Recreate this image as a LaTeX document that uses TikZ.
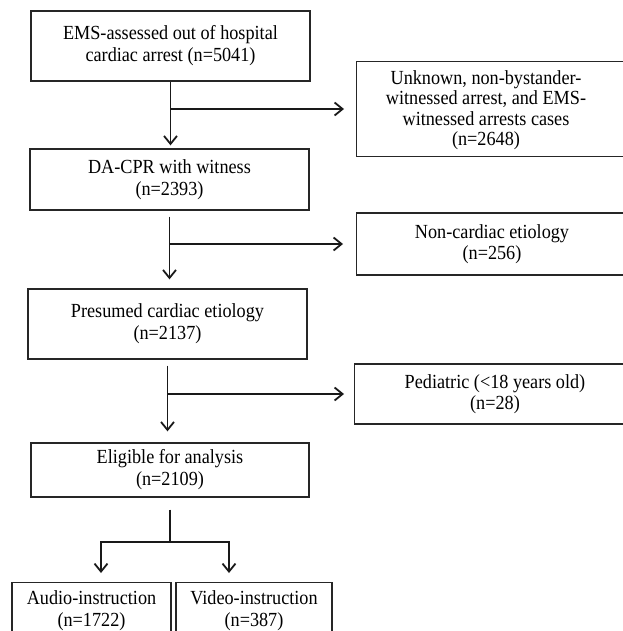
\documentclass[tikz,border=0pt]{standalone}
\usepackage{fontspec}
\setmainfont{Liberation Serif}[FakeStretch=0.91]
\usetikzlibrary{arrows.meta}
\begin{document}
\begin{tikzpicture}[x=1pt,y=-1pt,
  box/.style={draw=black!85, line width=1.3pt, align=center, inner sep=0pt, font=\fontsize{20}{22}\selectfont},
  txt/.style={align=center, inner sep=0pt, font=\fontsize{20}{21}\selectfont},
  ln/.style={draw=black!90, line width=1.8pt},
  arr/.style={ln, -{Straight Barb[length=8pt,width=13pt]}}]
\useasboundingbox (0,0) rectangle (622,631);
\fill[white] (0,0) rectangle (622,631);
% main column
\node[box, minimum width=279pt, minimum height=70pt] (b1) at (170.5,46) {EMS-assessed out of hospital\\cardiac arrest (n=5041)};
\node[box, minimum width=279pt, minimum height=61pt] (b2) at (169.5,179.5) {DA-CPR with witness\\(n=2393)};
\node[box, minimum width=279pt, minimum height=70pt] (b3) at (167.5,324) {Presumed cardiac etiology\\(n=2137)};
\node[box, minimum width=278pt, minimum height=54pt] (b4) at (170,470) {Eligible for analysis\\(n=2109)};
\node[box, minimum width=159pt, minimum height=56pt, anchor=north] (audio) at (91.5,582) {Audio-instruction\\(n=1722)};
\node[box, minimum width=156pt, minimum height=56pt, anchor=north] (video) at (254,582) {Video-instruction\\(n=387)};
% exclusion boxes (run past right edge)
\node[box, minimum width=290pt, minimum height=95pt, anchor=west] (unk) at (356,109) {};
\node[txt, font=\fontsize{20}{20.5}\selectfont] (unkt) at (486,110) {Unknown, non-bystander-\\witnessed arrest, and EMS-\\witnessed arrests cases\\(n=2648)};
\node[box, minimum width=290pt, minimum height=62pt, anchor=west] (nc) at (356,244) {};
\node[txt] (nct) at (492,244) {Non-cardiac etiology\\(n=256)};
\node[box, minimum width=292pt, minimum height=60pt, anchor=west] (ped) at (354,394) {};
\node[txt] (pedt) at (495,394) {Pediatric (<18 years old)\\(n=28)};
% connectors
\draw[arr, shorten >=3pt] (b1.south) -- (b1.south |- b2.north);
\draw[arr] (b1.south |- unk.west) -- ([xshift=-12pt]unk.west);
\draw[arr, shorten <=6pt, shorten >=9pt] (b2.south) -- (b2.south |- b3.north);
\draw[arr] (b2.south |- nc.west) -- ([xshift=-13pt]nc.west);
\draw[arr, shorten <=6pt, shorten >=11pt] (b3.south) -- (b3.south |- b4.north);
\draw[arr] (b3.south |- ped.west) -- ([xshift=-10pt]ped.west);
\coordinate (fork) at (170,542);
\coordinate (fl) at (101,542);
\coordinate (fr) at (229,542);
\draw[ln, shorten <=12pt] (b4.south) -- (fork);
\draw[arr, shorten >=9pt] (fork) -- (fl) -- (fl |- audio.north);
\draw[arr, shorten >=9pt] (fork) -- (fr) -- (fr |- video.north);
\end{tikzpicture}
\end{document}
